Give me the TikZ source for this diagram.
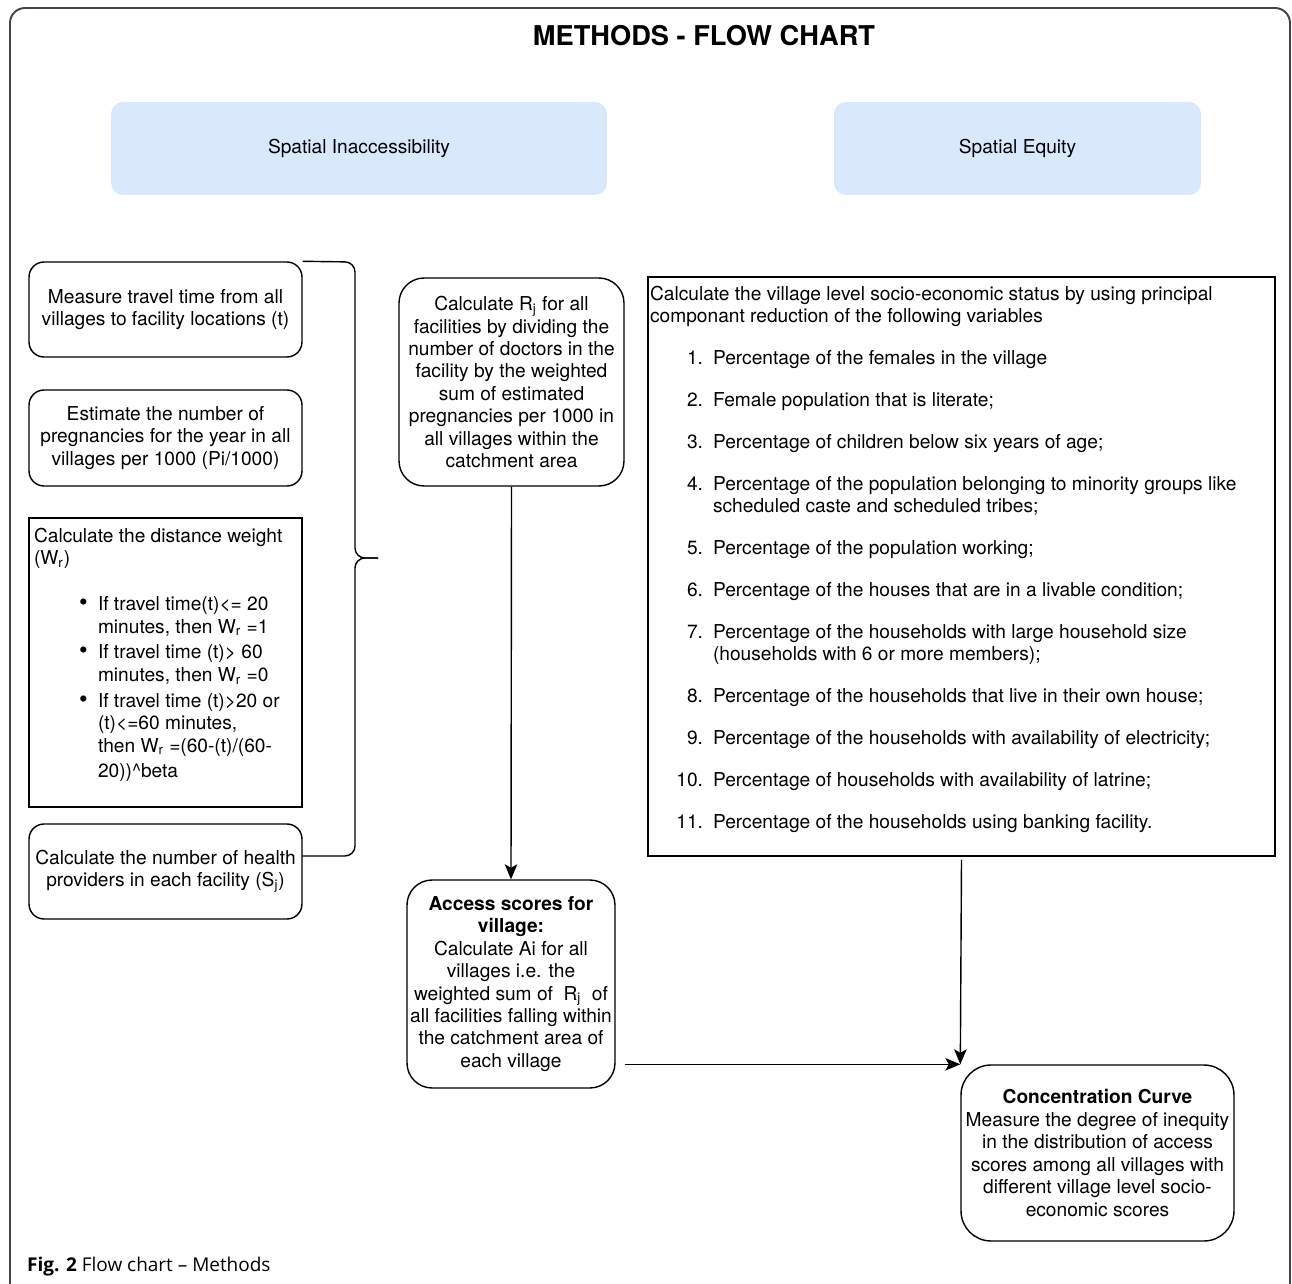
\documentclass[tikz,border=0pt]{standalone}
\usepackage{fontspec}
\setmainfont{TeX Gyre Heros}
\newfontfamily\capfont{Open Sans}
\usetikzlibrary{arrows.meta}
\definecolor{headblue}{HTML}{DAE8FC}
\definecolor{framegray}{HTML}{444444}
\newcommand{\bitem}[1]{\par\vspace{0.07cm}\hangindent=1.28cm\hangafter=1\noindent\hspace*{0.9cm}\makebox[0.38cm][l]{\fontsize{14}{14}\selectfont\textbullet}#1}
\newcommand{\nitem}[2]{\par\vspace{0.39cm}\hangindent=1.26cm\hangafter=1\noindent\makebox[1.06cm][r]{#1.}\hspace*{0.2cm}#2}
\begin{document}
\begin{tikzpicture}[x=0.02cm,y=-0.02cm,
  every node/.style={font=\fontsize{10.9}{12.75}\selectfont},
  rbox/.style={draw, line width=0.8pt, rounded corners=0.3cm, align=center, inner sep=0pt},
  sqbox/.style={draw, line width=0.8pt},
  headbox/.style={fill=headblue, rounded corners=0.24cm, inner sep=0pt, minimum height=1.86cm},
  arr/.style={line width=0.8pt, -{Stealth[length=0.3cm,width=0.25cm,inset=0.07cm]}}]
  \useasboundingbox (0,0) rectangle (1292,1284);
  \clip (0,0) rectangle (1292,1284);
  \draw[framegray, line width=1.1pt, rounded corners=0.3cm] (10,1300) -- (10,8) -- (1290,8) -- (1290,1300); %外枠

  \node[font=\fontsize{15.5}{18}\selectfont\bfseries] (title) at (704,36) {METHODS - FLOW CHART};
  \node[headbox, minimum width=9.92cm] (inacc) at (359,148.5) {Spatial Inaccessibility};
  \node[headbox, minimum width=7.34cm] (equity) at (1017.5,148.5) {Spatial Equity}; %見出し

  \node[rbox, minimum width=5.46cm, minimum height=1.9cm] (travel) at (165.5,309.5)
    {Measure travel time from all\\villages to facility locations (t)};
  \node[rbox, minimum width=5.46cm, minimum height=1.92cm] (preg) at (165.5,438)
    {Estimate the number of\\pregnancies for the year in all\\villages per 1000 (Pi/1000)};
  \node[sqbox, inner xsep=0.1cm, inner ysep=0.2cm] (weight) at (165.5,662.5)
    {\parbox[c][5.38cm][t]{5.26cm}{Calculate the distance weight\\(W\textsubscript{r})\par\vspace{0.4cm}
      \bitem{If travel time(t)<= 20\\minutes, then W\textsubscript{r} =1}
      \bitem{If travel time (t)> 60\\minutes, then W\textsubscript{r} =0}
      \bitem{If travel time (t)>20 or\\(t)<=60 minutes,\\then W\textsubscript{r} =(60-(t)/(60-\\[0.06cm]20))\textasciicircum beta}}};
  \node[rbox, minimum width=5.46cm, minimum height=1.9cm] (health) at (165.5,871.5)
    {Calculate the number of health\\providers in each facility (S\textsubscript{j})}; %左の列

  \coordinate (bracebot) at (302,856);
  \coordinate (bracetip) at (378,558);
  \draw[line width=0.8pt, rounded corners=0.2cm] (travel.north east) -- (355,262) -- (355,558) -- (bracetip);
  \draw[line width=0.8pt, rounded corners=0.2cm] (bracebot) -- (355,856) -- (355,558) -- (bracetip); %括弧

  \node[rbox, rounded corners=0.5cm, minimum width=4.5cm, minimum height=4.16cm] (ratio) at (511.5,382)
    {Calculate R\textsubscript{j} for all\\facilities by dividing the\\number of doctors in the\\facility by the weighted\\sum of estimated\\pregnancies per 1000 in\\all villages within the\\catchment area};
  \node[rbox, rounded corners=0.5cm, minimum width=4.16cm, minimum height=4.16cm] (access) at (511,984)
    {\textbf{Access scores for}\\\textbf{village:}\\Calculate Ai for all\\villages i.e. the\\weighted sum of \ R\textsubscript{j} \ of\\all facilities falling within\\the catchment area of\\each village}; %中央の列

  \node[sqbox, inner xsep=0.04cm, inner ysep=0.18cm] (ses) at (961.5,566.5)
    {\parbox[c][11.22cm][t]{12.46cm}{Calculate the village level socio-economic status by using principal\\componant reduction of the following variables
      \nitem{1}{Percentage of the females in the village}
      \nitem{2}{Female population that is literate;}
      \nitem{3}{Percentage of children below six years of age;}
      \nitem{4}{Percentage of the population belonging to minority groups like\\scheduled caste and scheduled tribes;}
      \nitem{5}{Percentage of the population working;}
      \nitem{6}{Percentage of the houses that are in a livable condition;}
      \nitem{7}{Percentage of the households with large household size\\(households with 6 or more members);}
      \nitem{8}{Percentage of the households that live in their own house;}
      \nitem{9}{Percentage of the households with availability of electricity;}
      \nitem{10}{Percentage of households with availability of latrine;}
      \nitem{11}{Percentage of the households using banking facility.}}};
  \node[rbox, rounded corners=0.6cm, minimum width=5.46cm, minimum height=3.52cm] (curve) at (1097.5,1153)
    {\textbf{Concentration Curve}\\Measure the degree of inequity\\in the distribution of access\\scores among all villages with\\different village level socio-\\economic scores}; %右の列

  \draw[arr] (ratio.south) -- (access.north);
  \draw[arr] ([yshift=-0.06cm]ses.south) -- (curve.north west);
  \draw[arr] ([xshift=0.18cm]access.east |- curve.north west) -- (curve.north west); %矢印

  \node[font=\capfont\fontsize{10.8}{13}\selectfont, anchor=west] (caption) at (21,1267)
    {\textbf{Fig. 2} Flow chart – Methods};
\end{tikzpicture}
\end{document}
